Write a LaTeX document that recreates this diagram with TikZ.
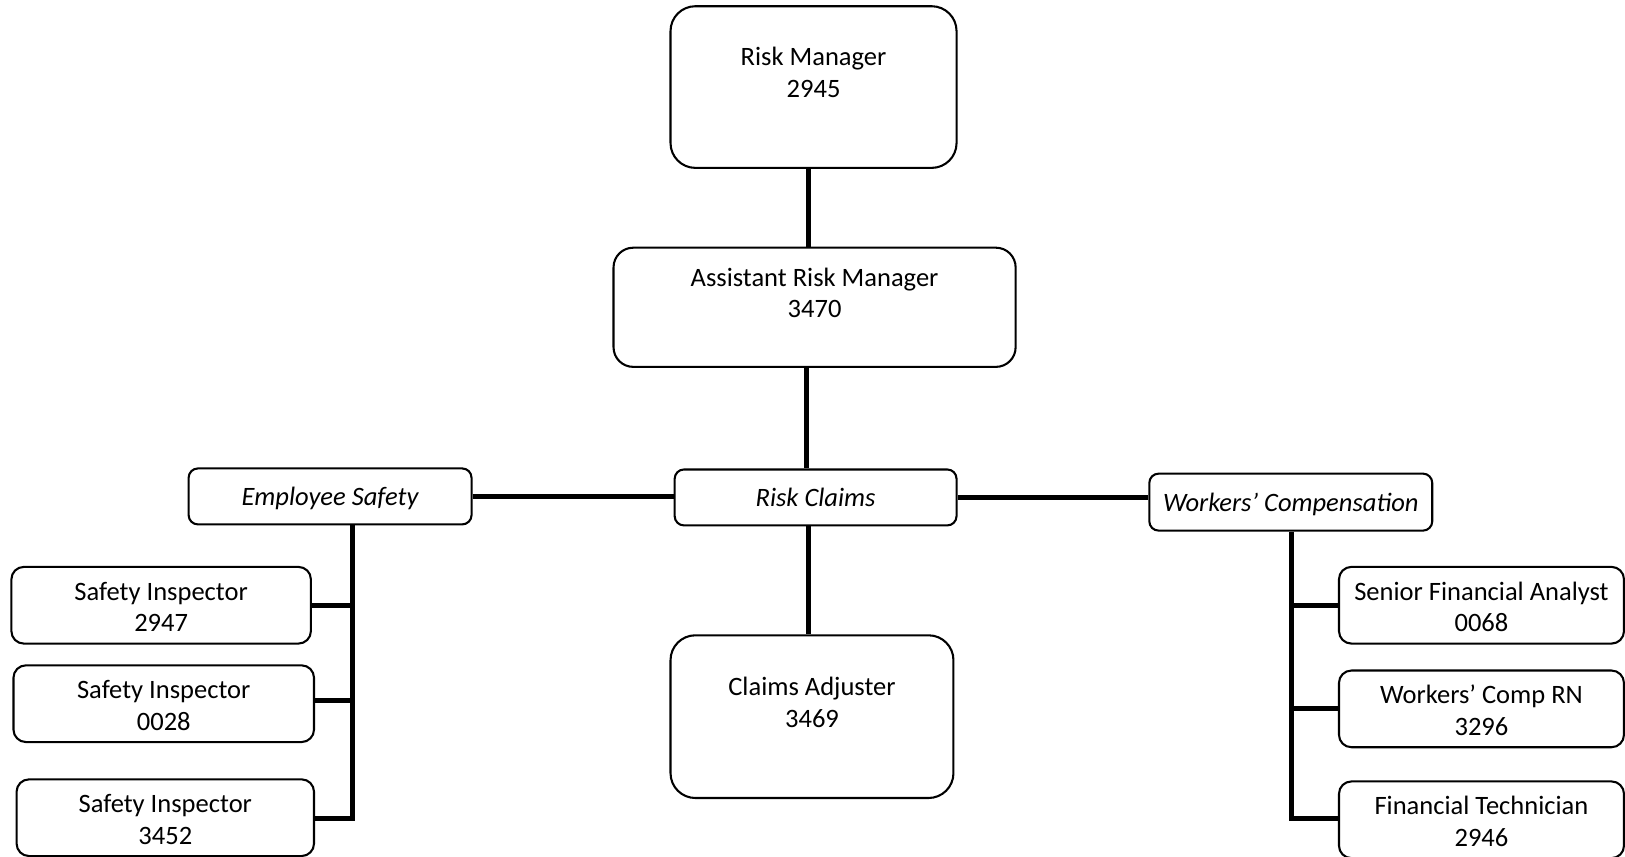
\documentclass[tikz,border=0pt]{standalone}
\usepackage{fontspec}
\setmainfont{Carlito}
\newcommand\topstrut{\rule{0pt}{14.85pt}}
\newcommand\onestrut{\rule{0pt}{13.7pt}\strut}
\begin{document}
\begin{tikzpicture}[x=0.5pt,y=-0.5pt,
  box/.style={draw, line width=1pt, align=center, inner sep=0pt,
    font=\fontsize{12.8}{15.3}\selectfont},
  big/.style={box, rounded corners=12pt},
  mid/.style={box, rounded corners=6pt, minimum height=37pt},
  small/.style={box, rounded corners=4.5pt},
  conn/.style={line width=2.4pt}]
\useasboundingbox (0,0) rectangle (1568,826);
% top chain
\node[big, minimum width=138pt, minimum height=78pt] (rm) at (785,84) {\topstrut Risk Manager\\\strut 2945\\\strut};
\node[box, rounded corners=9.5pt, minimum width=194pt, minimum height=57.5pt] (arm) at (786,296.5) {\topstrut Assistant Risk Manager\\\strut 3470\\\strut};
\node[small, minimum width=136pt, minimum height=27pt] (rc) at (787,480) {\onestrut\itshape Risk Claims};
\node[small, minimum width=136.5pt, minimum height=27pt] (es) at (318.5,479) {\onestrut\itshape Employee Safety};
\node[small, minimum width=136.5pt, minimum height=27.5pt] (wc) at (1245.5,484.5) {\onestrut\itshape Workers’ Compensation};
\node[big, minimum width=136.5pt, minimum height=78.5pt] (ca) at (783.5,691.5) {\topstrut Claims Adjuster\\\strut 3469\\\strut};
% left column
\node[mid, minimum width=144.5pt] (si1) at (155.5,584) {\topstrut Safety Inspector\\\strut 2947};
\node[mid, minimum width=145pt] (si2) at (158,679) {\topstrut Safety Inspector\\\strut 0028};
\node[mid, minimum width=143.5pt] (si3) at (159.5,789) {\topstrut Safety Inspector\\\strut 3452};
% right column
\node[mid, minimum width=137.5pt] (sfa) at (1429.5,584) {\topstrut Senior Financial Analyst\\\strut 0068};
\node[mid, minimum width=137.5pt] (wcrn) at (1429.5,684) {\topstrut Workers’ Comp RN\\\strut 3296};
\node[mid, minimum width=137.5pt] (ft) at (1429.5,791) {\topstrut Financial Technician\\\strut 2946};
% coordinates for the spines
\coordinate (esb) at (340,790);
\coordinate (wcb) at (1246,790);
% connectors
\draw[conn] ([xshift=-2.5pt]rm.south) -- ([xshift=-2.5pt]rm.south |- arm.north);
\draw[conn] ([xshift=-4pt]arm.south) -- ([xshift=-4pt]arm.south |- rc.north);
\draw[conn] (es.east) -- (es.east -| rc.west);
\draw[conn] (rc.east) -- (rc.east -| wc.west);
\draw[conn] ([xshift=-3.5pt]rc.south) -- ([xshift=-3.5pt]rc.south |- ca.north);
\draw[conn] (es.south -| esb) -- (esb) -- (esb -| si3.east);
\draw[conn] (si1.east) -- (si1.east -| esb);
\draw[conn] ([yshift=1.5pt]si2.east) -- ([yshift=1.5pt]si2.east -| esb);
\draw[conn] (wc.south -| wcb) -- (wcb) -- (wcb -| ft.west);
\draw[conn] (sfa.west) -- (sfa.west -| wcb);
\draw[conn] (wcrn.west) -- (wcrn.west -| wcb);
\end{tikzpicture}
\end{document}
